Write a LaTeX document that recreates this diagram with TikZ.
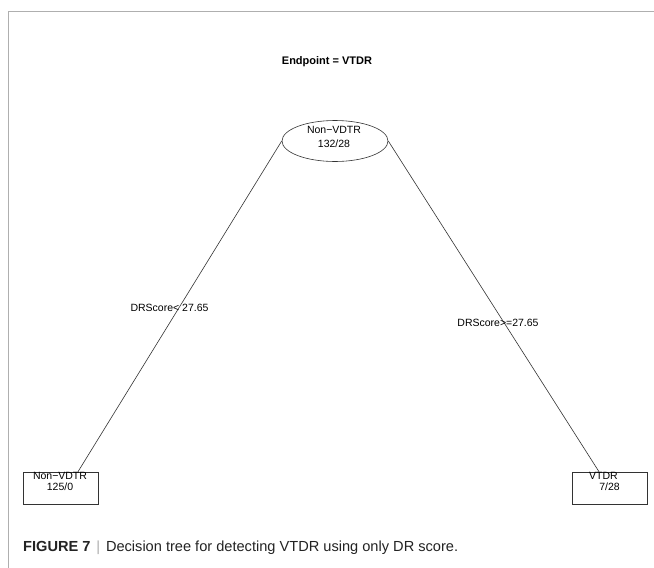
\documentclass[tikz,border=0pt]{standalone}
\usepackage{fontspec}
\setmainfont{Liberation Sans}
\usetikzlibrary{shapes.geometric}
\definecolor{framegray}{RGB}{175,175,175}
\definecolor{capgray}{RGB}{35,35,35}
\tikzset{
  frameline/.style={draw=framegray, line width=1pt},
  treeline/.style={draw=black!80, line width=0.6pt},
  root/.style={ellipse, draw=black!80, line width=0.6pt, minimum width=106pt, minimum height=41pt, inner sep=0pt},
  leaf/.style={rectangle, draw=black!80, line width=0.6pt, minimum width=75pt, minimum height=32pt, inner sep=0pt},
  txt/.style={font=\fontsize{10.5}{12}\selectfont, inner sep=0pt, align=center},
  elabel/.style={font=\fontsize{10.5}{12}\selectfont, inner sep=0pt},
}
\begin{document}
\begin{tikzpicture}[x=1pt, y=-1pt]
\useasboundingbox (0,0) rectangle (654,568);
\fill[white] (0,0) rectangle (654,568);
% frame
\coordinate (fa) at (654,11);
\coordinate (fb) at (8,11);
\coordinate (fc) at (8,568);
\draw[frameline] (fa) -- (fb) -- (fc);
% title
\node[font=\bfseries\fontsize{11}{13}\selectfont, inner sep=0pt] (title) at (327,62) {Endpoint = VTDR};
% nodes
\node[root] (E) at (335,141) {};
\node[txt, font=\fontsize{10.5}{13.5}\selectfont] (Et) at (334,137) {Non\textminus VDTR\\132/28};
\node[leaf] (L) at (60.5,488) {};
\node[txt, font=\fontsize{10.5}{11}\selectfont] (Lt) at (60,481) {Non\textminus VDTR\\125/0};
\node[leaf] (R) at (609.5,488) {};
\node[txt, font=\fontsize{10.5}{11}\selectfont] (Rt1) at (603.5,475.5) {VTDR};
\node[txt, font=\fontsize{10.5}{11}\selectfont] (Rt2) at (609.5,486.5) {7/28};
% edges
\draw[treeline] (E.west) -- ([xshift=17.5pt]L.north);
\draw[treeline] (E.east) -- ([xshift=-10.5pt]R.north);
% edge labels
\node[elabel] (la) at (169.5,308) {DRScore< 27.65};
\node[elabel] (lb) at (498,323) {DRScore>=27.65};
% caption
\node[anchor=west, inner sep=0pt, text=capgray, font=\fontsize{14.6}{16}\selectfont] (cap) at (23,548)
  {\textbf{FIGURE 7}\hspace{0.4em}{\color{framegray}|}\hspace{0.4em}Decision tree for detecting VTDR using only DR score.};
\end{tikzpicture}
\end{document}
